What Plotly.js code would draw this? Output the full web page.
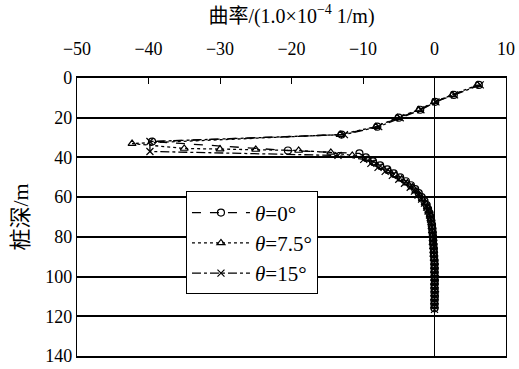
<!DOCTYPE html>
<html>
<head>
<meta charset="utf-8">
<script src="https://cdn.plot.ly/plotly-3.0.1.min.js"></script>
<style>html,body{margin:0;padding:0;background:#fff;}#chart{width:519px;height:369px;}</style>
</head>
<body>
<div id="chart"></div>
<script>
// depth (m)
var depth0 = [3.5, 8.5, 12, 16, 20, 24.5, 28.5, 32, 36.5, 38, 40, 42, 44, 46, 48, 50, 52, 54, 56, 58, 60, 62, 64, 66, 68, 70, 72, 74, 76, 78, 80, 82, 84, 86, 88, 90, 92, 94, 96, 98, 100, 102, 104, 106, 108, 110, 112, 114, 116];
var curv0  = [6.2, 2.7, 0.1, -2.0, -5.0, -8.0, -13.0, -39.5, -20.5, -10.5, -9.6, -8.6, -7.6, -6.6, -5.7, -4.8, -4.0, -3.3, -2.7, -2.2, -1.8, -1.4, -1.1, -0.9, -0.7, -0.55, -0.45, -0.35, -0.3, -0.25, -0.2, -0.2, -0.15, -0.1, -0.1, -0.05, 0, 0, 0, 0, 0, 0.05, 0, 0, 0, 0.05, 0, 0, 0];

var depth1 = [3.5, 8.5, 12, 16, 20, 24.5, 28.5, 33, 35.5, 35.8, 36, 36.5, 37.5, 39, 41, 43, 45, 47, 49, 51, 53, 55, 57, 59, 61, 63, 65, 67, 69, 71, 73, 75, 77, 79, 81, 83, 85, 87, 89, 91, 93, 95, 97, 99, 101, 103, 105, 107, 109, 111, 113, 115];
var curv1  = [6.0, 2.5, 0.0, -2.2, -5.2, -8.2, -13.2, -42.3, -35.0, -30.0, -25.0, -19.0, -14.5, -11.5, -9.3, -8.3, -7.3, -6.3, -5.4, -4.6, -3.8, -3.1, -2.6, -2.1, -1.7, -1.3, -1.0, -0.8, -0.6, -0.5, -0.4, -0.35, -0.3, -0.25, -0.2, -0.2, -0.15, -0.1, -0.1, -0.05, 0, 0, 0, 0.05, 0, 0, 0, 0.05, 0, 0, 0, 0];

var depth2 = [3.5, 8.5, 12, 16, 20, 24.5, 28.5, 32, 37, 39, 41, 43, 45, 47, 49, 51, 53, 55, 57, 59, 61, 63, 65, 67, 69, 71, 73, 75, 77, 79, 81, 83, 85, 87, 89, 91, 93, 95, 97, 99, 101, 103, 105, 107, 109, 111, 113, 115, 116.5];
var curv2  = [6.4, 2.8, 0.2, -1.9, -4.8, -7.8, -12.6, -39.8, -39.8, -13.5, -9.9, -8.9, -7.9, -6.9, -5.9, -5.0, -4.2, -3.4, -2.8, -2.3, -1.8, -1.4, -1.1, -0.9, -0.7, -0.55, -0.45, -0.35, -0.3, -0.25, -0.2, -0.15, -0.1, -0.1, -0.05, 0, 0, 0.05, 0.05, 0, 0, 0, 0.05, 0.05, 0, 0, 0, 0, 0];

var names = ['<i>θ</i>=0°', '<i>θ</i>=7.5°', '<i>θ</i>=15°'];
var xTicks = [-50, -40, -30, -20, -10, 0, 10];
var yTicks = [0, 20, 40, 60, 80, 100, 120, 140];

var serif = 'Liberation Serif, Times New Roman, serif';
var cjk = 'Liberation Serif, Noto Sans CJK SC, serif';

function tr(x, y, name, dash, symbol) {
  return {
    x: x, y: y, name: name, type: 'scatter', mode: 'lines+markers',
    line: {color: '#000', width: 1.3, dash: dash},
    marker: {symbol: symbol, size: 7, color: '#000', line: {color: '#000', width: 1.2}},
    cliponaxis: false
  };
}

var data = [
  tr(curv0, depth0, names[0], 'dash', 'circle-open'),
  tr(curv1, depth1, names[1], 'dot', 'triangle-up-open'),
  tr(curv2, depth2, names[2], 'dashdot', 'x-thin-open')
];

var layout = {
  width: 519, height: 369,
  margin: {l: 77, r: 13, t: 78, b: 13},
  paper_bgcolor: '#fff', plot_bgcolor: '#fff',
  showlegend: true,
  legend: {
    x: 0.254, y: 0.592, xanchor: 'left', yanchor: 'top',
    bgcolor: '#fff', bordercolor: '#000', borderwidth: 1,
    font: {family: serif, size: 21, color: '#000'},
    itemwidth: 58,
    tracegroupgap: 0
  },
  xaxis: {
    side: 'top', range: [-50, 10], tickvals: xTicks,
    ticks: 'inside', ticklen: 6, tickcolor: '#000', tickwidth: 1,
    ticklabelstandoff: 14,
    showgrid: false, zeroline: true, zerolinecolor: '#000', zerolinewidth: 1.6,
    showline: true, linecolor: '#000', linewidth: 2, mirror: true,
    tickfont: {family: serif, size: 18, color: '#000'},
    title: {text: '曲率/(1.0×10<sup>−4</sup> 1/m)', font: {family: cjk, size: 20, color: '#000'}, standoff: 10},
    fixedrange: true
  },
  yaxis: {
    range: [140, 0], tickvals: yTicks,
    ticks: '', showgrid: true, gridcolor: '#000', gridwidth: 2,
    zeroline: false,
    showline: true, linecolor: '#000', linewidth: 1.2, mirror: true,
    tickfont: {family: serif, size: 18, color: '#000'},
    title: {text: '桩深/m', font: {family: cjk, size: 22, color: '#000'}, standoff: 10},
    fixedrange: true
  }
};

Plotly.newPlot('chart', data, layout, {displayModeBar: false, staticPlot: true});
</script>
</body>
</html>
